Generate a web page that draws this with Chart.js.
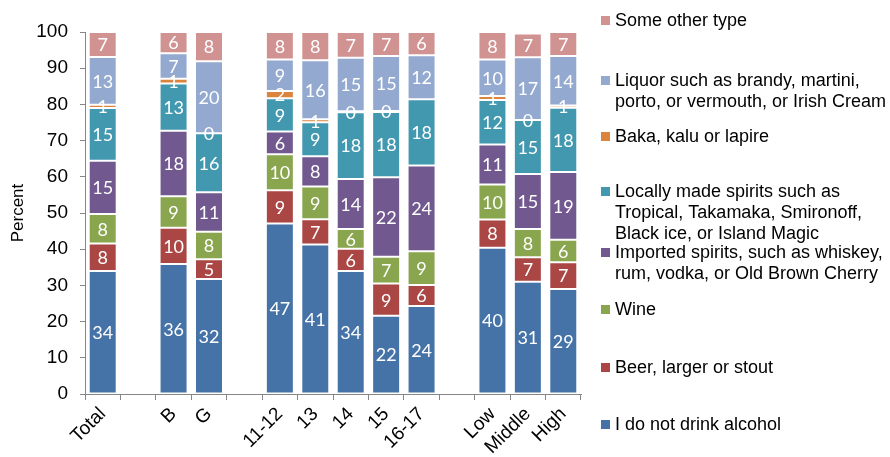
<!DOCTYPE html>
<html>
<head>
<meta charset="utf-8">
<script src="https://cdn.jsdelivr.net/npm/chart.js@4.4.1/dist/chart.umd.min.js"></script>
<style>
  html, body { margin: 0; padding: 0; background: #fff; }
  #wrap { width: 890px; height: 457px; position: relative; }
</style>
</head>
<body>
<div id="wrap"><canvas id="drinkChart" width="890" height="457"></canvas></div>
<script>
// Categories (empty strings are the gaps between groups)
const categories = ['Total', '', 'B', 'G', '', '11-12', '13', '14', '15', '16-17', '', 'Low', 'Middle', 'High'];

// Percent values (bottom of the stack first)
const noDrink  = [34.0, null, 35.9, 31.8, null, 47.1, 41.3, 34.0, 21.6, 24.3, null, 40.4, 31.0, 29.0];
const beer     = [7.6, null, 10.0, 5.4, null, 9.2, 7.0, 6.1, 8.9, 5.8, null, 7.8, 6.8, 7.4];
const wine     = [8.1, null, 8.7, 7.6, null, 9.9, 9.0, 5.5, 7.4, 9.3, null, 9.7, 7.8, 6.2];
const imported = [14.7, null, 18.1, 10.9, null, 6.3, 8.4, 13.8, 22.0, 23.7, null, 11.0, 15.2, 18.7];
const local    = [14.6, null, 13.1, 16.3, null, 9.2, 9.4, 18.4, 18.0, 18.3, null, 12.3, 14.9, 17.8];
const baka     = [0.9, null, 1.3, 0, null, 2.0, 0.8, 0.3, 0.3, null, null, 1.1, 0, 0.6];
const liquor   = [13.2, null, 7.0, 19.9, null, 8.7, 16.3, 14.8, 15.2, 12.2, null, 10.1, 17.3, 13.7];
const other    = [6.9, null, 5.9, 8.1, null, 7.6, 7.8, 7.1, 6.6, 6.4, null, 7.6, 6.6, 6.6];

const yTicks = [0, 10, 20, 30, 40, 50, 60, 70, 80, 90, 100];

// Legend text, split the way the picture wraps it
const seriesNames = [
    ['I do not drink alcohol'],
    ['Beer, larger or stout'],
    ['Wine'],
    ['Imported spirits, such as whiskey,', 'rum, vodka, or Old Brown Cherry'],
    ['Locally made spirits such as', 'Tropical, Takamaka, Smironoff,', 'Black ice, or Island Magic'],
    ['Baka, kalu or lapire'],
    ['Liquor such as brandy, martini,', 'porto, or vermouth, or Irish Cream'],
    ['Some other type']
];
const seriesColors = ['#4572A7', '#AA4643', '#89A54E', '#71588F', '#4198AF', '#DB843D', '#93A9CF', '#D19392'];
const seriesValues = [noDrink, beer, wine, imported, local, baka, liquor, other];

const FONT = '"Liberation Sans", Arial, sans-serif';

// White value labels in the middle of each segment
const segmentLabels = {
    id: 'segmentLabels',
    afterDatasetsDraw(chart) {
        const ctx = chart.ctx;
        ctx.save();
        ctx.fillStyle = '#ffffff';
        ctx.font = '18px Lato, "Open Sans", sans-serif';
        ctx.textAlign = 'center';
        ctx.textBaseline = 'middle';
        chart.data.datasets.forEach((ds, di) => {
            const meta = chart.getDatasetMeta(di);
            meta.data.forEach((bar, i) => {
                const v = ds.data[i];
                if (v === null || v === undefined) return;
                const y = (bar.y + bar.base) / 2;
                ctx.fillText(String(Math.round(v)), bar.x, y + 1);
            });
        });
        ctx.restore();
    }
};

// Legend on the right, top entry = last series
const sideLegend = {
    id: 'sideLegend',
    afterDraw(chart) {
        const ctx = chart.ctx;
        const rows = [21, 81, 137, 192, 253, 310, 368, 425];
        ctx.save();
        ctx.font = '18px ' + FONT;
        ctx.textBaseline = 'middle';
        ctx.textAlign = 'left';
        const n = seriesNames.length;
        for (let k = 0; k < n; k++) {
            const si = n - 1 - k;
            const y = rows[k];
            ctx.fillStyle = seriesColors[si];
            ctx.fillRect(601, y - 5, 9, 9);
            ctx.fillStyle = '#000000';
            seriesNames[si].forEach((line, li) => {
                ctx.fillText(line, 615, y + li * 21);
            });
        }
        ctx.restore();
    }
};

const datasets = seriesValues.map((vals, i) => ({
    label: seriesNames[i].join(' '),
    data: vals,
    backgroundColor: seriesColors[i],
    borderColor: 'rgba(255,255,255,0.3)',
    borderWidth: 1,
    borderSkipped: false,
    categoryPercentage: 1.0,
    barPercentage: 0.79
}));

const ctx = document.getElementById('drinkChart').getContext('2d');
new Chart(ctx, {
    type: 'bar',
    data: { labels: categories, datasets: datasets },
    options: {
        responsive: false,
        animation: false,
        layout: { padding: { left: 0, top: 32, right: 309, bottom: 0 } },
        plugins: {
            legend: { display: false },
            tooltip: { enabled: false }
        },
        scales: {
            x: {
                stacked: true,
                border: { display: true, color: '#868686' },
                grid: { display: true, drawOnChartArea: false, offset: true, tickLength: 6, color: '#868686' },
                ticks: {
                    autoSkip: false,
                    minRotation: 45,
                    maxRotation: 45,
                    color: '#000',
                    padding: 3,
                    font: { family: FONT, size: 19 }
                },
                afterFit(scale) { scale.height = 63; }
            },
            y: {
                stacked: true,
                min: 0,
                max: 100,
                border: { display: true, color: '#868686' },
                grid: { display: true, drawOnChartArea: false, tickLength: 5, color: '#868686' },
                afterBuildTicks(scale) { scale.ticks = yTicks.map(v => ({ value: v })); },
                ticks: {
                    color: '#000',
                    padding: 12,
                    font: { family: FONT, size: 19 }
                },
                title: {
                    display: true,
                    text: 'Percent',
                    color: '#000',
                    padding: { top: 8, bottom: 0 },
                    font: { family: FONT, size: 17 }
                },
                afterFit(scale) { scale.width = 85; }
            }
        }
    },
    plugins: [segmentLabels, sideLegend]
});
</script>
</body>
</html>
